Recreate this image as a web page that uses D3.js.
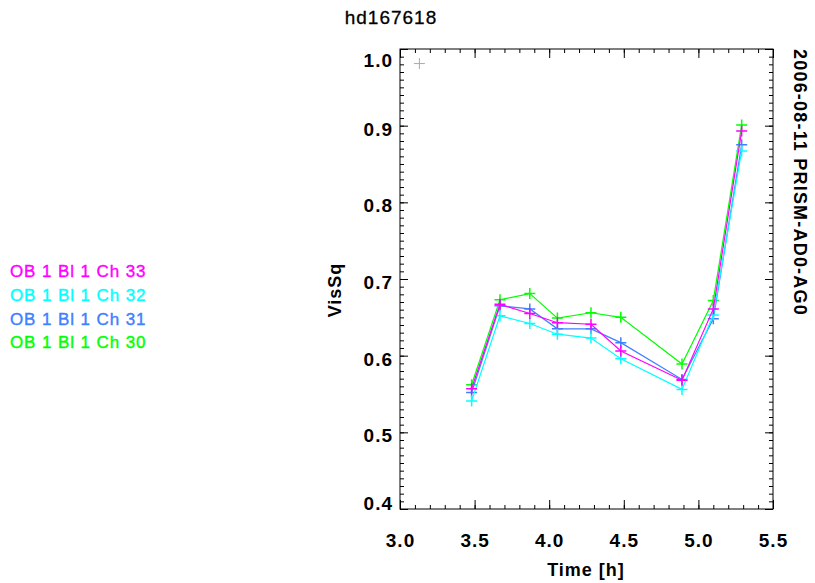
<!DOCTYPE html>
<html>
<head>
<meta charset="utf-8">
<script src="https://cdn.jsdelivr.net/npm/d3@7"></script>
<style>
  html, body { margin: 0; padding: 0; background: #fff; }
  svg { display: block; font-family: "Liberation Sans", Arial, Helvetica, sans-serif; }
</style>
</head>
<body>
<svg id="chart" width="815" height="583"></svg>
<script>
// Observation times [h]
const times = [3.48, 3.67, 3.87, 4.055, 4.28, 4.48, 4.89, 5.10, 5.29];

// Squared visibility per spectral channel
const ch33 = [0.557, 0.667, 0.655, 0.643, 0.641, 0.606, 0.568, 0.661, 0.893];
const ch32 = [0.541, 0.652, 0.642, 0.628, 0.623, 0.596, 0.556, 0.653, 0.867];
const ch31 = [0.552, 0.665, 0.661, 0.635, 0.635, 0.617, 0.569, 0.648, 0.875];
const ch30 = [0.562, 0.673, 0.681, 0.649, 0.656, 0.650, 0.589, 0.672, 0.901];

// Calibrator point
const calTime = [3.13];
const calVis = [0.981];

const seriesNames = ["OB 1 Bl 1 Ch 33", "OB 1 Bl 1 Ch 32", "OB 1 Bl 1 Ch 31", "OB 1 Bl 1 Ch 30"];
const seriesValues = [ch33, ch32, ch31, ch30];
const seriesColors = ["#ff00ff", "#00ffff", "#3f80ff", "#00ff00"];

const xTicks = [3.0, 3.5, 4.0, 4.5, 5.0, 5.5];
const yTicks = [0.4, 0.5, 0.6, 0.7, 0.8, 0.9, 1.0];

const svg = d3.select("#chart");
const frame = { left: 400, right: 773, top: 49, bottom: 509 };

const x = d3.scaleLinear().domain([3.0, 5.5]).range([frame.left, frame.right]);
const y = d3.scaleLinear().domain([0.4, 1.0]).range([frame.bottom, frame.top]);

const xMinor = d3.range(30, 56).map(d => d / 10);
const yMinor = d3.range(40, 101).map(d => d / 100);

function styleAxis(g) {
  g.select(".domain").remove();
  g.selectAll("line").attr("stroke", "#000").attr("stroke-width", 1);
}

// Minor ticks on all four sides
svg.append("g").attr("transform", `translate(0,${frame.bottom})`)
  .call(d3.axisBottom(x).tickValues(xMinor).tickSize(-4).tickFormat(""))
  .call(styleAxis);
svg.append("g").attr("transform", `translate(0,${frame.top})`)
  .call(d3.axisTop(x).tickValues(xMinor).tickSize(-4).tickFormat(""))
  .call(styleAxis);
svg.append("g").attr("transform", `translate(${frame.left},0)`)
  .call(d3.axisLeft(y).tickValues(yMinor).tickSize(-4).tickFormat(""))
  .call(styleAxis);
svg.append("g").attr("transform", `translate(${frame.right},0)`)
  .call(d3.axisRight(y).tickValues(yMinor).tickSize(-4).tickFormat(""))
  .call(styleAxis);

// Major ticks
const xAxis = svg.append("g").attr("transform", `translate(0,${frame.bottom})`)
  .call(d3.axisBottom(x).tickValues(xTicks).tickSize(-9).tickPadding(0).tickFormat(d3.format(".1f")))
  .call(styleAxis);
svg.append("g").attr("transform", `translate(0,${frame.top})`)
  .call(d3.axisTop(x).tickValues(xTicks).tickSize(-9).tickFormat(""))
  .call(styleAxis);
const yAxis = svg.append("g").attr("transform", `translate(${frame.left},0)`)
  .call(d3.axisLeft(y).tickValues(yTicks).tickSize(-8).tickPadding(7).tickFormat(d3.format(".1f")))
  .call(styleAxis);
svg.append("g").attr("transform", `translate(${frame.right},0)`)
  .call(d3.axisRight(y).tickValues(yTicks).tickSize(-8).tickFormat(""))
  .call(styleAxis);

xAxis.selectAll("text")
  .attr("y", 38).attr("dy", null)
  .attr("font-size", 19).attr("font-weight", "bold")
  .attr("fill", "#000").style("letter-spacing", "1px");

yAxis.selectAll("text")
  .attr("font-size", 19).attr("font-weight", "bold")
  .attr("fill", "#000").style("letter-spacing", "1px")
  .attr("dy", d => d === 1.0 ? "0.9em" : d === 0.4 ? "0em" : "0.5em");

// Frame
svg.append("rect")
  .attr("x", frame.left).attr("y", frame.top)
  .attr("width", frame.right - frame.left).attr("height", frame.bottom - frame.top)
  .attr("fill", "none").attr("stroke", "#000").attr("stroke-width", 1);

// Plus-sign marker path
function plus(cx, cy, r) {
  return `M${cx - r},${cy}H${cx + r}M${cx},${cy - r}V${cy + r}`;
}

const line = d3.line().x(d => x(d[0])).y(d => y(d[1]));

// Draw channels, last legend entry first so Ch 33 lies on top
const plot = svg.append("g");
for (let i = seriesValues.length - 1; i >= 0; i--) {
  const pts = times.map((t, j) => [t, seriesValues[i][j]]);
  plot.append("path")
    .attr("d", line(pts))
    .attr("fill", "none")
    .attr("stroke", seriesColors[i])
    .attr("stroke-width", 1.2);
  plot.append("path")
    .attr("d", pts.map(p => plus(x(p[0]), y(p[1]), 5.5)).join(""))
    .attr("fill", "none")
    .attr("stroke", seriesColors[i])
    .attr("stroke-width", 1.5);
}

// Calibrator marker
plot.append("path")
  .attr("d", calTime.map((t, j) => plus(x(t), y(calVis[j]), 5.5)).join(""))
  .attr("fill", "none").attr("stroke", "#aaaaaa").attr("stroke-width", 1);

// Title
svg.append("text")
  .attr("x", 391).attr("y", 24)
  .attr("text-anchor", "middle")
  .attr("font-size", 19).style("letter-spacing", "1px")
  .attr("stroke", "#000").attr("stroke-width", 0.3)
  .text("hd167618");

// Axis titles
svg.append("text")
  .attr("x", 586).attr("y", 576)
  .attr("text-anchor", "middle")
  .attr("font-size", 18).attr("font-weight", "bold").style("letter-spacing", "1px")
  .text("Time [h]");

svg.append("text")
  .attr("transform", "translate(341,290) rotate(-90)")
  .attr("text-anchor", "middle")
  .attr("font-size", 18).attr("font-weight", "bold").style("letter-spacing", "1px")
  .text("VisSq");

// Date / instrument setup
svg.append("text")
  .attr("transform", "translate(794,49) rotate(90)")
  .attr("text-anchor", "start")
  .attr("font-size", 18).attr("font-weight", "bold").style("letter-spacing", "1.2px")
  .text("2006-08-11 PRISM-AD0-AG0");

// Legend
svg.append("g").selectAll("text")
  .data(seriesNames)
  .join("text")
  .attr("x", 10)
  .attr("y", (d, i) => 277 + i * 23.8)
  .attr("font-size", 17)
  .style("letter-spacing", "0.9px")
  .attr("fill", (d, i) => seriesColors[i])
  .attr("stroke", (d, i) => seriesColors[i])
  .attr("stroke-width", 0.4)
  .text(d => d);
</script>
</body>
</html>
